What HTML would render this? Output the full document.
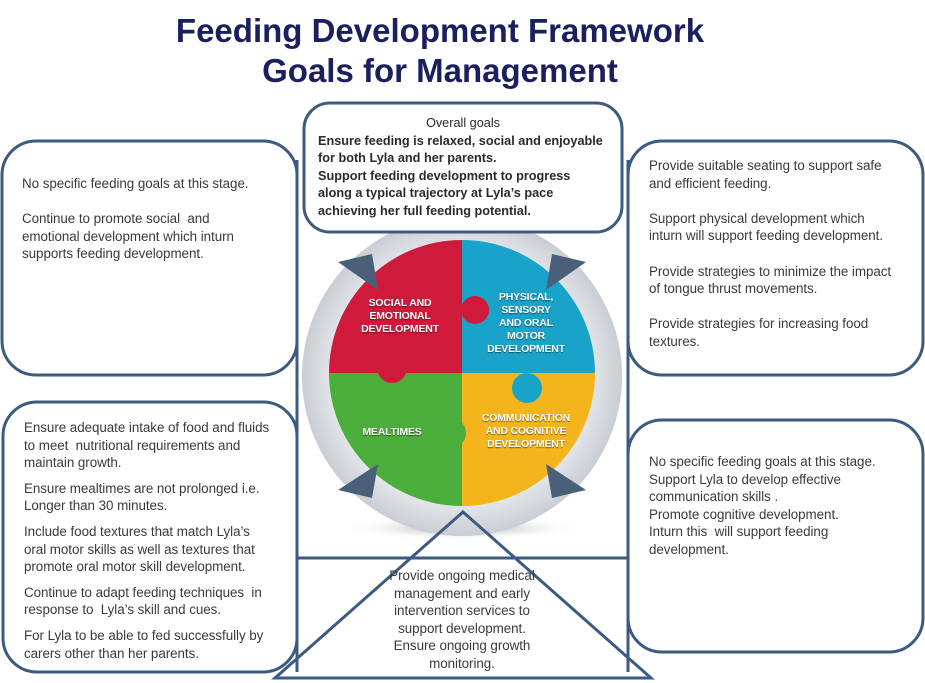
<!DOCTYPE html>
<html><head><meta charset="utf-8">
<style>
body{margin:0;width:925px;height:683px;background:#fff;position:relative;overflow:hidden;font-family:"Liberation Sans",sans-serif}
.t{position:absolute;font-size:13.4px;line-height:17.6px;color:#3a3a3a;letter-spacing:-0.05px;white-space:nowrap}
.t p{margin:0}
h1{position:absolute;left:0;width:880px;top:11px;margin:0;text-align:center;font-size:33px;line-height:40px;color:#1b1f5e;font-weight:bold}
.pz{position:absolute;color:#fff;font-weight:bold;font-size:10.5px;line-height:13px;text-align:center;text-shadow:0 1px 1px rgba(0,0,0,.5);letter-spacing:-0.2px}
</style></head><body>
<svg width="925" height="683" style="position:absolute;left:0;top:0">
<defs>
<radialGradient id="gr" cx="0.5" cy="0.5" r="0.5"><stop offset="0.8" stop-color="#e4e7ea"/><stop offset="1" stop-color="#c9ced4"/></radialGradient>
<radialGradient id="sh" cx="0.5" cy="0.5" r="0.5"><stop offset="0" stop-color="#999"/><stop offset="1" stop-color="#fff" stop-opacity="0"/></radialGradient>
</defs>
<g stroke="#3d5a80" stroke-width="3" fill="none">
<line x1="297" y1="160" x2="297" y2="672"/>
<line x1="628" y1="160" x2="628" y2="672"/>
<line x1="297" y1="558" x2="628" y2="558"/>
</g>
<ellipse cx="462" cy="528" rx="120" ry="12" fill="url(#sh)"/>
<circle cx="462" cy="376" r="160" fill="url(#gr)"/>
<g>
<path d="M462,373 L462,240 A133,133 0 0 0 329,373 Z" fill="#d01a3c"/>
<path d="M462,373 L595,373 A133,133 0 0 0 462,240 Z" fill="#1aa3c8"/>
<path d="M462,373 L329,373 A133,133 0 0 0 462,506 Z" fill="#4cae3a"/>
<path d="M462,373 L462,506 A133,133 0 0 0 595,373 Z" fill="#f4b51c"/>
<circle cx="475" cy="310" r="14" fill="#d01a3c"/>
<circle cx="392" cy="368" r="15" fill="#d01a3c"/>
<circle cx="527" cy="388" r="15" fill="#1aa3c8"/>
<circle cx="451" cy="433" r="15" fill="#4cae3a"/>
</g>
<g fill="#4a6078">
<polygon points="338,262 372,254 378,290"/>
<polygon points="586,262 552,254 546,290"/>
<polygon points="338,490 372,498 378,464"/>
<polygon points="586,490 552,498 546,464"/>
</g>
<g stroke="#3d5a80" stroke-width="3" fill="#fff">
<rect x="304" y="103" width="318" height="129" rx="26"/>
<rect x="2" y="141" width="295" height="234" rx="34"/>
<rect x="628" y="141" width="295" height="234" rx="34"/>
<rect x="3" y="402" width="294" height="270" rx="34"/>
<rect x="628" y="420" width="295" height="232" rx="34"/>
</g>
<polygon points="463,512 275,678 651,678" fill="none" stroke="#3d5a80" stroke-width="3"/>
</svg>
<h1>Feeding Development Framework<br>Goals for Management</h1>
<div class="t" style="left:318px;top:115px;width:300px;color:#2a2a2a;font-weight:bold;font-size:12.7px;letter-spacing:0">
<p style="text-align:center;font-weight:normal;padding-right:10px">Overall goals</p>
<p>Ensure feeding is relaxed, social and enjoyable<br>for both Lyla and her parents.<br>Support feeding development to progress<br>along a typical trajectory at Lyla’s pace<br>achieving her full feeding potential.</p></div>
<div class="t" style="left:22px;top:175px">
<p>No specific feeding goals at this stage.</p><p>&nbsp;</p>
<p>Continue to promote social &nbsp;and<br>emotional development which inturn<br>supports feeding development.</p></div>
<div class="t" style="left:649px;top:157px">
<p>Provide suitable seating to support safe<br>and efficient feeding.</p><p>&nbsp;</p>
<p>Support physical development which<br>inturn will support feeding development.</p><p>&nbsp;</p>
<p>Provide strategies to minimize the impact<br>of tongue thrust movements.</p><p>&nbsp;</p>
<p>Provide strategies for increasing food<br>textures.</p></div>
<div class="t" style="left:24px;top:419px">
<p>Ensure adequate intake of food and fluids<br>to meet &nbsp;nutritional requirements and<br>maintain growth.</p>
<p style="margin-top:8px">Ensure mealtimes are not prolonged i.e.<br>Longer than 30 minutes.</p>
<p style="margin-top:8px">Include food textures that match Lyla’s<br>oral motor skills as well as textures that<br>promote oral motor skill development.</p>
<p style="margin-top:8px">Continue to adapt feeding techniques &nbsp;in<br>response to &nbsp;Lyla’s skill and cues.</p>
<p style="margin-top:8px">For Lyla to be able to fed successfully by<br>carers other than her parents.</p></div>
<div class="t" style="left:649px;top:453px">
<p>No specific feeding goals at this stage.<br>Support Lyla to develop effective<br>communication skills .<br>Promote cognitive development.<br>Inturn this &nbsp;will support feeding<br>development.</p></div>
<div class="t" style="left:362px;top:567px;width:200px;text-align:center">Provide ongoing medical<br>management and early<br>intervention services to<br>support development.<br>Ensure ongoing growth<br>monitoring.</div>
<div class="pz" style="left:352px;top:297px;width:96px">SOCIAL AND<br>EMOTIONAL<br>DEVELOPMENT</div>
<div class="pz" style="left:478px;top:291px;width:96px">PHYSICAL,<br>SENSORY<br>AND ORAL<br>MOTOR<br>DEVELOPMENT</div>
<div class="pz" style="left:352px;top:426px;width:80px">MEALTIMES</div>
<div class="pz" style="left:470px;top:412px;width:112px">COMMUNICATION<br>AND COGNITIVE<br>DEVELOPMENT</div>
</body></html>
